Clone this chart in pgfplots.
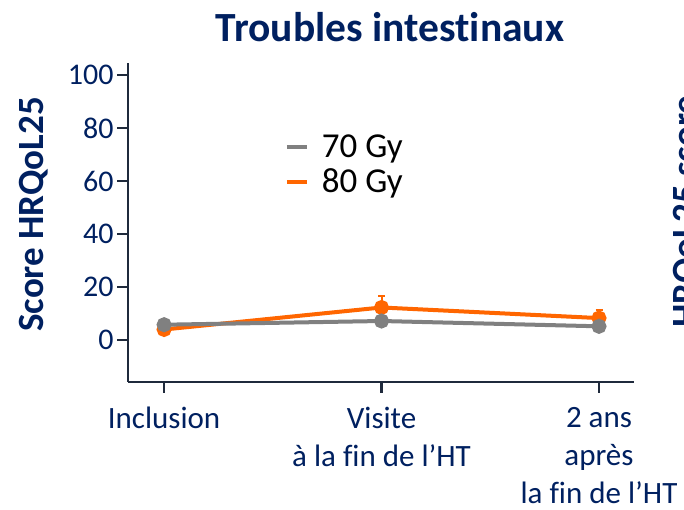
\documentclass[border=0pt]{standalone}
\usepackage{pgfplots}
\pgfplotsset{compat=1.18}
\usepackage{fontspec}
\setmainfont{Carlito}[RawFeature={-liga}]
\definecolor{navy}{HTML}{002060}
\definecolor{axcol}{HTML}{1F2A3C}
\definecolor{gy}{HTML}{808080}
\definecolor{orng}{HTML}{FF6600}
\begin{document}
\begin{tikzpicture}
\useasboundingbox (0,0) rectangle (684pt,510pt);
\clip (0,0) rectangle (684pt,510pt);
\begin{axis}[
  at={(128pt,128pt)}, anchor=south west,
  scale only axis, width=506pt, height=319pt,
  xmin=-0.166, xmax=2.161, ymin=-15.8, ymax=104.5,
  axis lines=left,
  axis line style={-, line width=2.5pt, color=axcol},
  xtick={0,1,2},
  xticklabels={Inclusion,{Visite\\à la fin de l’HT},{2 ans\\après\\la fin de l’HT}},
  ytick={0,20,40,60,80,100},
  /pgf/number format/assume math mode=true,
  tick align=outside, major tick length=11pt,
  tick style={line width=2.5pt, color=axcol},
  yticklabel style={font=\fontsize{30}{36}\selectfont, text=navy},
  xticklabel style={font=\fontsize{31}{38}\selectfont, text=navy, align=center, yshift=-12pt, inner sep=2pt},
  legend style={at={(0.31,0.775)}, anchor=north west, draw=none, fill=none,
    inner sep=0pt, outer sep=0pt, font=\fontsize{35}{40}\selectfont,
    nodes={inner sep=0pt}, column sep=13pt, row sep=10pt},
  legend cell align=left,
  reverse legend,
  legend image code/.code={\draw[#1, line width=4pt] (0pt,0pt) -- (20pt,0pt);},
  clip=false,
]
\addplot[orng, line width=4pt, mark=*, mark size=5.5pt, mark options={solid, fill=orng},
  error bars/.cd, y dir=both, y explicit,
  error bar style={line width=2pt, orng},
  error mark options={rotate=90, mark size=3.5pt, line width=2pt, orng}]
  coordinates {(0,4.0) +- (0,1.5) (1,12.3) +- (0,4.4) (2,8.3) +- (0,3.2)};
\addlegendentry{80 Gy}
\addplot[gy, line width=4pt, mark=*, mark size=5.5pt, mark options={solid, fill=gy},
  error bars/.cd, y dir=both, y explicit,
  error bar style={line width=2pt, gy},
  error mark options={rotate=90, mark size=3pt, line width=2pt, gy}]
  coordinates {(0,5.8) +- (0,1.0) (1,7.2) +- (0,1.0) (2,5.2) +- (0,1.0)};
\addlegendentry{70 Gy}
\end{axis}
\node[anchor=base, font=\fontsize{41.5}{48}\selectfont\bfseries, text=navy] at (390pt,468pt) {Troubles intestinaux};
\node[rotate=90, anchor=base, font=\fontsize{37}{44}\selectfont\bfseries, text=navy] at (43pt,295.5pt) {Score HRQoL25};
\node[rotate=90, anchor=base, font=\fontsize{37}{44}\selectfont\bfseries, text=navy] at (697pt,298.5pt) {HRQoL25 score};
\end{tikzpicture}
\end{document}
